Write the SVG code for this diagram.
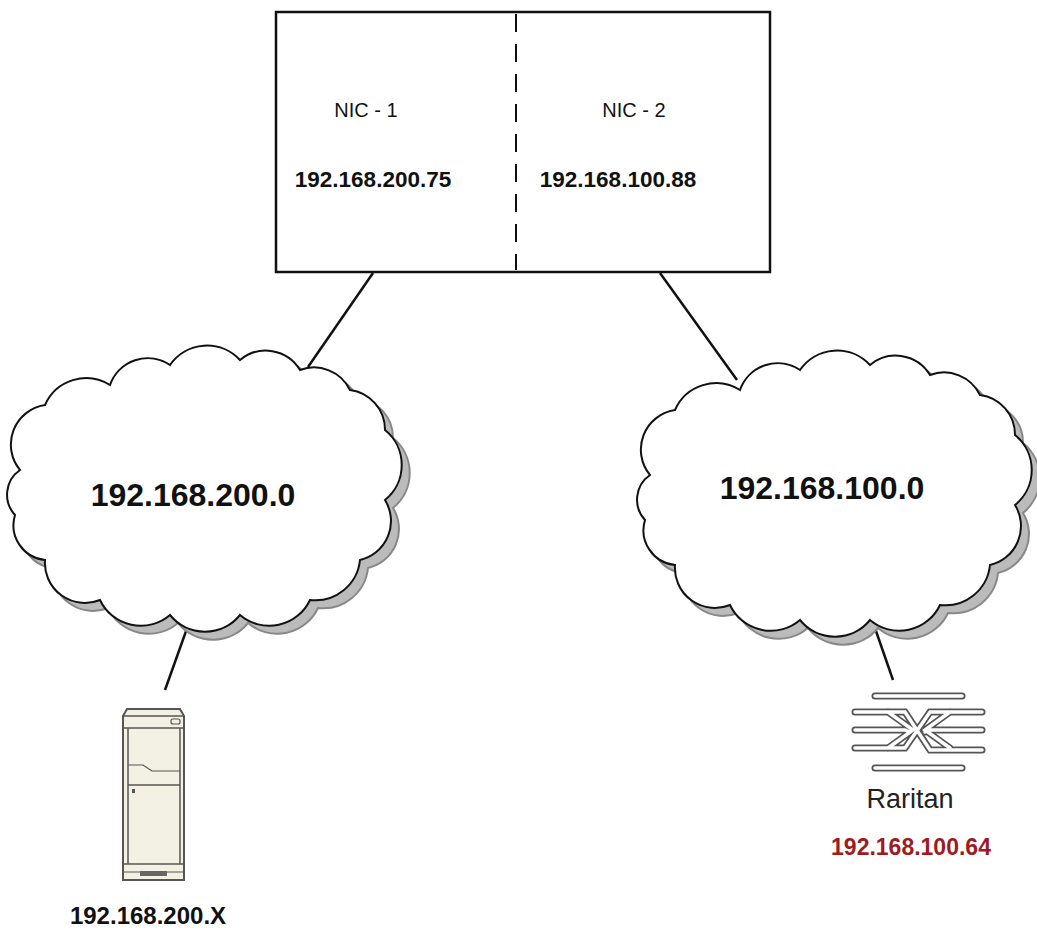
<svg xmlns="http://www.w3.org/2000/svg" xmlns:xlink="http://www.w3.org/1999/xlink" width="1037" height="934" viewBox="0 0 1037 934">
<style>
.t{font-family:"Liberation Sans",Arial,sans-serif;fill:#111;text-anchor:middle}
.b{font-weight:bold}
.ln{stroke:#111;stroke-width:2.5;fill:none}
</style>
<defs>
<path id="cloud" d="M20,470 A40,40 0 0 1 45,405 A45,45 0 0 1 110,385 A40,40 0 0 1 170,365 A45,45 0 0 1 240,360 A40,40 0 0 1 300,370 A40,40 0 0 1 350,390 A40,40 0 0 1 385,430 A45,45 0 0 1 385,500 A40,40 0 0 1 360,560 A45,45 0 0 1 310,600 A45,45 0 0 1 240,615 A45,45 0 0 1 170,615 A45,45 0 0 1 100,600 A40,40 0 0 1 45,560 A35,35 0 0 1 15,515 A30,30 0 0 1 20,470 Z"/>
<path id="rar" d="M875,696 H962 M875,768 H962 M855,712 H888 L905,712 L930,750 H982 M855,730 H890 L905,730 L910,732 M855,748 H890 L905,748 L930,712 H982 M982,730 H930 L925,732 M888,712 L913,730 L888,748 M950,712 L925,730 L950,748"/>
</defs>
<rect width="1037" height="934" fill="#fff"/>
<g id="connectors">
<line class="ln" x1="373" y1="273" x2="308" y2="367"/>
<line class="ln" x1="660" y1="273" x2="737" y2="380"/>
<line class="ln" x1="190" y1="620" x2="165" y2="690"/>
<line class="ln" x1="868" y1="608" x2="893" y2="680"/>
</g>
<g id="host">
<rect x="276" y="12" width="494" height="260" fill="#fff" stroke="#111" stroke-width="2.5"/>
<line x1="516" y1="14" x2="516" y2="270" stroke="#111" stroke-width="2" stroke-dasharray="18,12"/>
<text class="t" x="366" y="117" font-size="20">NIC - 1</text>
<text class="t b" x="373" y="187" font-size="22.5">192.168.200.75</text>
<text class="t" x="634" y="117" font-size="20">NIC - 2</text>
<text class="t b" x="618" y="187" font-size="22.5">192.168.100.88</text>
</g>
<g id="cloud1">
<use xlink:href="#cloud" transform="translate(8,8)" fill="#bbb" stroke="#888" stroke-width="2"/>
<use xlink:href="#cloud" fill="#fff" stroke="#111" stroke-width="2"/>
<text class="t b" x="193" y="506" font-size="32">192.168.200.0</text>
</g>
<g id="cloud2">
<use xlink:href="#cloud" transform="translate(638,13)" fill="#bbb" stroke="#888" stroke-width="2"/>
<use xlink:href="#cloud" transform="translate(630,5)" fill="#fff" stroke="#111" stroke-width="2"/>
<text class="t b" x="822" y="499" font-size="32">192.168.100.0</text>
</g>
<g id="server">
<path d="M123,716 L127,709 L180,709 L184,716 L184,880 L123,880 Z" fill="#f3f1e4" stroke="#555" stroke-width="2"/>
<line x1="123" y1="716" x2="184" y2="716" stroke="#555" stroke-width="1.5"/>
<line x1="123" y1="728" x2="184" y2="728" stroke="#555" stroke-width="1.5"/>
<rect x="171" y="719" width="9" height="5" rx="2" fill="none" stroke="#555" stroke-width="1.2"/>
<line x1="128" y1="728" x2="128" y2="864" stroke="#555" stroke-width="1.5"/>
<line x1="180" y1="728" x2="180" y2="864" stroke="#555" stroke-width="1.5"/>
<path d="M128,765 L143,765 L152,771 L180,771" fill="none" stroke="#555" stroke-width="1.2"/>
<line x1="128" y1="785" x2="180" y2="785" stroke="#555" stroke-width="1.5"/>
<rect x="132" y="789" width="3" height="4" fill="#555"/>
<line x1="123" y1="864" x2="184" y2="864" stroke="#555" stroke-width="1.5"/>
<line x1="123" y1="872" x2="184" y2="872" stroke="#555" stroke-width="1"/>
<rect x="140" y="871" width="27" height="5" fill="#666"/>
<text class="t b" x="148" y="924" font-size="24">192.168.200.X</text>
</g>
<g id="raritan" fill="none" stroke-linecap="round">
<use xlink:href="#rar" stroke="#555" stroke-width="7"/>
<use xlink:href="#rar" stroke="#fff" stroke-width="3.5"/>
<text class="t" x="910" y="808" font-size="27" style="fill:#222">Raritan</text>
<text class="t b" x="911" y="855" font-size="23" style="fill:#9e1b22">192.168.100.64</text>
</g>
</svg>
